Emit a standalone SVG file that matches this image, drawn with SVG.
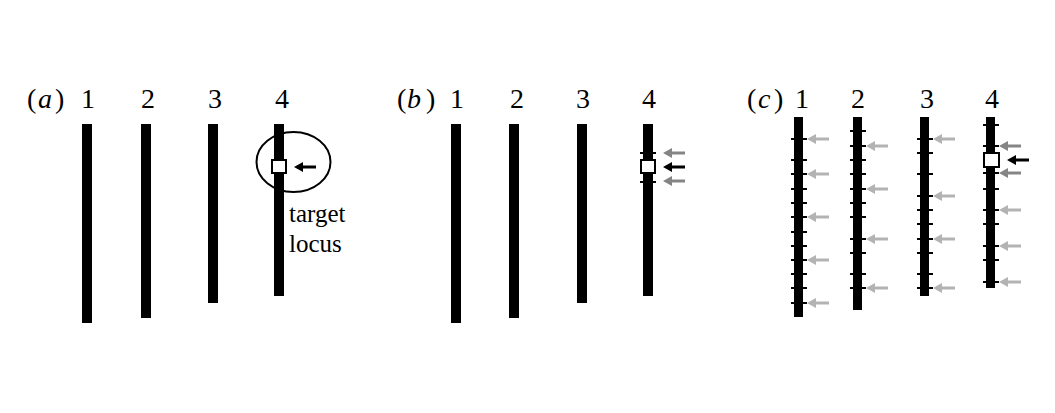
<svg xmlns="http://www.w3.org/2000/svg" xmlns:xlink="http://www.w3.org/1999/xlink" width="1055" height="413" viewBox="0 0 1055 413">
<style>
text{font-family:"Liberation Serif","Times New Roman",serif;font-size:25px;fill:#000}
.lbl{font-size:28px}
.num{font-size:28px;text-anchor:middle}
.bar{fill:#000}
.tick{stroke:#000;stroke-width:2}
.sq{fill:#fff;stroke:#000;stroke-width:2}
.lg{fill:#b3b3b3}
.dg{fill:#858585}
.bk{fill:#000}
</style>
<defs>
<path id="arr" d="M0,0 L9,-5 L9,-1.6 L22,-1.6 L22,1.6 L9,1.6 L9,5 Z"/>
</defs>
<rect width="1055" height="413" fill="#fff"/>
<g id="panel-a">
<text class="lbl" x="27" y="108">(<tspan x="38" font-style="italic">a</tspan><tspan x="55">)</tspan></text>
<text class="num" x="88" y="108">1</text>
<text class="num" x="148" y="108">2</text>
<text class="num" x="215" y="108">3</text>
<text class="num" x="282" y="108">4</text>
<rect class="bar" x="82" y="124" width="10" height="199"/>
<rect class="bar" x="141" y="124" width="10" height="194"/>
<rect class="bar" x="208" y="124" width="10" height="179"/>
<rect class="bar" x="274" y="124" width="10" height="172"/>
<ellipse cx="293.5" cy="162" rx="37" ry="30" fill="none" stroke="#000" stroke-width="2"/>
<rect class="sq" x="272" y="160" width="14" height="13"/>
<use xlink:href="#arr" x="294" y="167" class="bk"/>
<text x="289" y="222">target</text>
<text x="289" y="252">locus</text>
</g>
<g id="panel-b">
<text class="lbl" x="397" y="108">(<tspan x="407" font-style="italic">b</tspan><tspan x="426">)</tspan></text>
<text class="num" x="457" y="108">1</text>
<text class="num" x="517" y="108">2</text>
<text class="num" x="583" y="108">3</text>
<text class="num" x="649" y="108">4</text>
<rect class="bar" x="451" y="124" width="10" height="199"/>
<rect class="bar" x="509" y="124" width="10" height="194"/>
<rect class="bar" x="577" y="124" width="10" height="179"/>
<rect class="bar" x="643" y="124" width="10" height="172"/>
<line class="tick" x1="640" y1="153" x2="656" y2="153"/>
<line class="tick" x1="640" y1="182" x2="656" y2="182"/>
<rect class="sq" x="641" y="160" width="14" height="13"/>
<use xlink:href="#arr" x="663" y="153" class="dg"/>
<use xlink:href="#arr" x="663" y="167" class="bk"/>
<use xlink:href="#arr" x="663" y="181" class="dg"/>
</g>
<g id="panel-c">
<text class="lbl" x="747" y="108">(<tspan x="758" font-style="italic">c</tspan><tspan x="774">)</tspan></text>
<text class="num" x="802" y="108">1</text>
<text class="num" x="858" y="108">2</text>
<text class="num" x="927" y="108">3</text>
<text class="num" x="992" y="108">4</text>
<g id="c1">
<rect class="bar" x="794" y="117" width="9" height="200"/>
<g class="tick">
<line x1="791" y1="139" x2="807" y2="139"/><line x1="791" y1="160" x2="807" y2="160"/><line x1="791" y1="174" x2="807" y2="174"/><line x1="791" y1="189" x2="807" y2="189"/><line x1="791" y1="203" x2="807" y2="203"/><line x1="791" y1="217" x2="807" y2="217"/><line x1="791" y1="232" x2="807" y2="232"/><line x1="791" y1="246" x2="807" y2="246"/><line x1="791" y1="260" x2="807" y2="260"/><line x1="791" y1="274" x2="807" y2="274"/><line x1="791" y1="288" x2="807" y2="288"/><line x1="791" y1="303" x2="807" y2="303"/>
</g>
</g>
<g id="c2">
<rect class="bar" x="853" y="117" width="9" height="193"/>
<g class="tick">
<line x1="850" y1="131" x2="866" y2="131"/><line x1="850" y1="146" x2="866" y2="146"/><line x1="850" y1="160" x2="866" y2="160"/><line x1="850" y1="174" x2="866" y2="174"/><line x1="850" y1="189" x2="866" y2="189"/><line x1="850" y1="203" x2="866" y2="203"/><line x1="850" y1="217" x2="866" y2="217"/><line x1="850" y1="239" x2="866" y2="239"/><line x1="850" y1="253" x2="866" y2="253"/><line x1="850" y1="274" x2="866" y2="274"/><line x1="850" y1="288" x2="866" y2="288"/>
</g>
</g>
<g id="c3">
<rect class="bar" x="920" y="117" width="9" height="179"/>
<g class="tick">
<line x1="917" y1="139" x2="933" y2="139"/><line x1="917" y1="153" x2="933" y2="153"/><line x1="917" y1="174" x2="933" y2="174"/><line x1="917" y1="196" x2="933" y2="196"/><line x1="917" y1="210" x2="933" y2="210"/><line x1="917" y1="224" x2="933" y2="224"/><line x1="917" y1="239" x2="933" y2="239"/><line x1="917" y1="253" x2="933" y2="253"/><line x1="917" y1="274" x2="933" y2="274"/><line x1="917" y1="288" x2="933" y2="288"/>
</g>
</g>
<g id="c4">
<rect class="bar" x="986" y="117" width="9" height="171"/>
<g class="tick">
<line x1="983" y1="125" x2="999" y2="125"/><line x1="983" y1="146" x2="999" y2="146"/><line x1="983" y1="173" x2="999" y2="173"/><line x1="983" y1="189" x2="999" y2="189"/><line x1="983" y1="210" x2="999" y2="210"/><line x1="983" y1="224" x2="999" y2="224"/><line x1="983" y1="246" x2="999" y2="246"/><line x1="983" y1="260" x2="999" y2="260"/><line x1="983" y1="282" x2="999" y2="282"/>
</g>
<rect class="sq" x="984" y="153" width="15" height="14"/>
</g>
<g id="c-arrows">
<use xlink:href="#arr" x="807" y="139" class="lg"/><use xlink:href="#arr" x="807" y="174" class="lg"/><use xlink:href="#arr" x="807" y="217" class="lg"/><use xlink:href="#arr" x="807" y="260" class="lg"/><use xlink:href="#arr" x="807" y="303" class="lg"/>
<use xlink:href="#arr" x="866" y="146" class="lg"/><use xlink:href="#arr" x="866" y="189" class="lg"/><use xlink:href="#arr" x="866" y="239" class="lg"/><use xlink:href="#arr" x="866" y="288" class="lg"/>
<use xlink:href="#arr" x="933" y="139" class="lg"/><use xlink:href="#arr" x="933" y="196" class="lg"/><use xlink:href="#arr" x="933" y="239" class="lg"/><use xlink:href="#arr" x="933" y="288" class="lg"/>
<use xlink:href="#arr" x="999" y="146" class="dg"/><use xlink:href="#arr" x="999" y="173" class="dg"/>
<use xlink:href="#arr" x="1007" y="160" class="bk"/>
<use xlink:href="#arr" x="999" y="210" class="lg"/><use xlink:href="#arr" x="999" y="246" class="lg"/><use xlink:href="#arr" x="999" y="282" class="lg"/>
</g>
</g>
</svg>
